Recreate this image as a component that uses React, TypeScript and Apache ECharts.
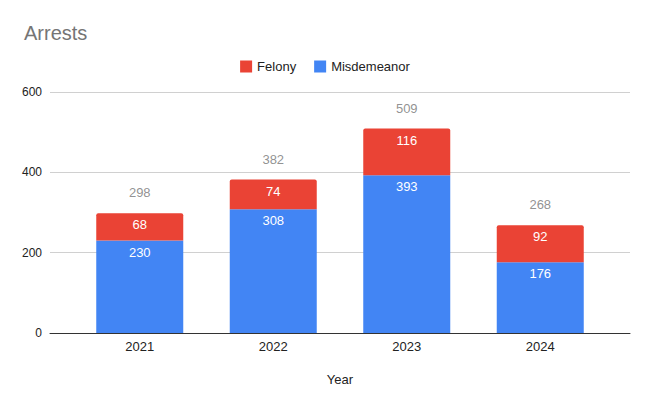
import React, { useEffect, useRef } from "react";
import * as echarts from "echarts";

const years = ["2021", "2022", "2023", "2024"];
const felony = [68, 74, 116, 92];
const misdemeanor = [230, 308, 393, 176];
const yTicks = { min: 0, max: 600, interval: 200 };

const FONT = "Arial, 'Liberation Sans', Helvetica, sans-serif";

export default function App() {
  const ref = useRef<HTMLDivElement>(null);
  useEffect(() => {
    if (!ref.current) return;
    const chart = echarts.init(ref.current, undefined, { renderer: "svg" });
    const totals = years.map((_, i) => felony[i] + misdemeanor[i]);
    chart.setOption({
      animation: false,
      textStyle: { fontFamily: FONT },
      title: {
        text: "Arrests",
        left: 19,
        top: 18,
        textStyle: { fontSize: 20, fontWeight: "normal", color: "#757575", fontFamily: FONT },
      },
      legend: {
        data: ["Felony", "Misdemeanor"],
        top: 55,
        left: "center",
        icon: "rect",
        itemWidth: 12,
        itemHeight: 12,
        itemGap: 18,
        textStyle: { fontSize: 13, color: "#222", fontFamily: FONT },
      },
      grid: [
        { left: 50, right: 20, top: 92, bottom: 66 },
        { left: 73, right: 43, top: 92, bottom: 66 },
      ],
      xAxis: [
        {
          gridIndex: 0,
          type: "category",
          data: [""],
          axisLine: { show: true, lineStyle: { color: "#333", width: 1 } },
          axisTick: { show: false },
          axisLabel: { show: false },
          splitLine: { show: false },
          z: 5,
        },
        {
          gridIndex: 1,
          type: "category",
          data: years,
          axisLine: { show: false },
          axisTick: { show: false },
          axisLabel: { color: "#222", fontSize: 13, margin: 7, fontFamily: FONT },
          name: "Year",
          nameLocation: "middle",
          nameGap: 40,
          nameTextStyle: { color: "#222", fontSize: 13, fontFamily: FONT },
        },
      ],
      yAxis: [
        {
          gridIndex: 0,
          type: "value",
          min: yTicks.min,
          max: yTicks.max,
          interval: yTicks.interval,
          axisLine: { show: false },
          axisTick: { show: false },
          axisLabel: { color: "#222", fontSize: 12, margin: 8, fontFamily: FONT },
          splitLine: { show: true, lineStyle: { color: "#d0d0d0", width: 1 } },
        },
        {
          gridIndex: 1,
          type: "value",
          min: yTicks.min,
          max: yTicks.max,
          interval: yTicks.interval,
          show: false,
          splitLine: { show: false },
        },
      ],
      series: [
        {
          name: "Misdemeanor",
          type: "bar",
          xAxisIndex: 1,
          yAxisIndex: 1,
          stack: "a",
          data: misdemeanor,
          barWidth: 87,
          itemStyle: { color: "#4285F4" },
          label: {
            show: true,
            position: "insideTop",
            distance: 5,
            color: "#fff",
            fontSize: 13,
            fontFamily: FONT,
          },
        },
        {
          name: "Felony",
          type: "bar",
          xAxisIndex: 1,
          yAxisIndex: 1,
          stack: "a",
          data: felony,
          barWidth: 87,
          itemStyle: { color: "#EA4335", borderRadius: [2, 2, 0, 0] },
          label: {
            show: true,
            position: "insideTop",
            distance: 5,
            color: "#fff",
            fontSize: 13,
            fontFamily: FONT,
          },
        },
        {
          name: "Total",
          type: "scatter",
          xAxisIndex: 1,
          yAxisIndex: 1,
          data: totals,
          symbolSize: 0,
          silent: true,
          label: {
            show: true,
            position: "top",
            distance: 14,
            color: "#757575",
            fontSize: 13,
            fontFamily: FONT,
          },
        },
      ],
    });
    return () => chart.dispose();
  }, []);
  return <div ref={ref} style={{ width: 650, height: 399, position: "absolute", left: 0, top: 0 }} />;
}
